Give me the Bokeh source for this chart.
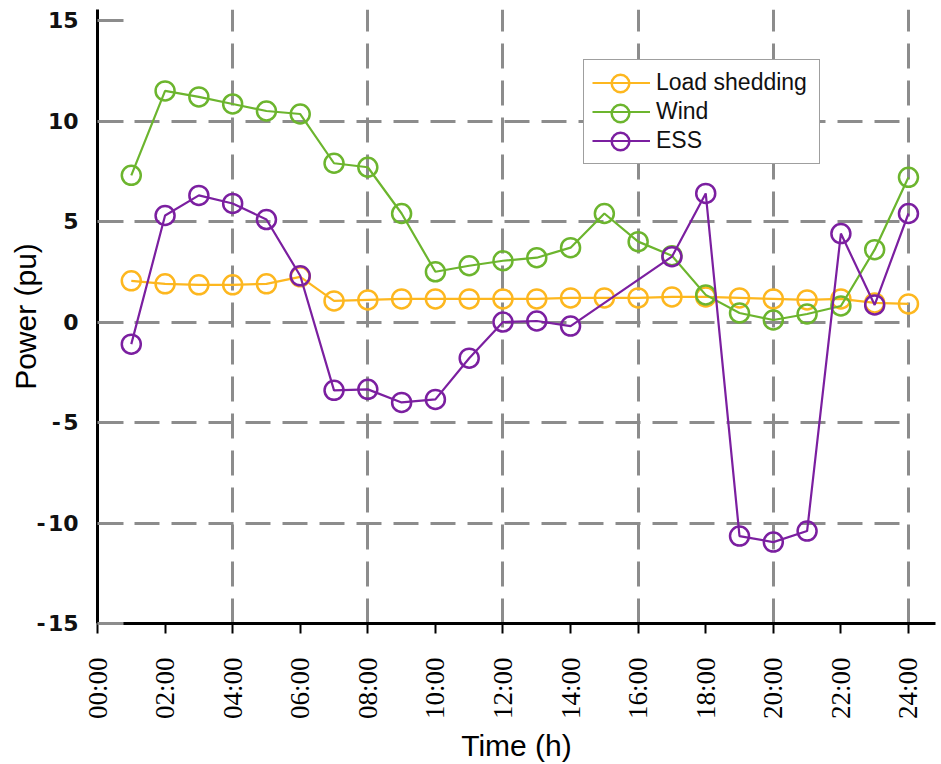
import numpy as np
from bokeh.plotting import figure
from bokeh.models import FixedTicker, Range1d, Legend, LegendItem, LinearAxis
from bokeh.embed import file_html
from bokeh.resources import INLINE

hours = list(range(1, 25))
load_shedding = [2.05, 1.9, 1.85, 1.85, 1.9, 2.25, 1.05, 1.1, 1.15, 1.15, 1.15, 1.15,
                 1.15, 1.2, 1.2, 1.2, 1.25, 1.25, 1.2, 1.15, 1.1, 1.15, 0.95, 0.9]
wind = [7.3, 11.5, 11.2, 10.85, 10.5, 10.35, 7.9, 7.7, 5.4, 2.5, 2.8, 3.05,
        3.2, 3.7, 5.4, 4.0, 3.3, 1.35, 0.45, 0.1, 0.4, 0.8, 3.6, 7.2]
ess_hours = [1, 2, 3, 4, 5, 6, 7, 8, 9, 10, 11, 12, 13, 14, 17, 18, 19, 20, 21, 22, 23, 24]
ess = [-1.1, 5.3, 6.3, 5.9, 5.1, 2.3, -3.4, -3.35, -4.0, -3.85, -1.8, 0.0,
       0.05, -0.2, 3.25, 6.4, -10.65, -10.95, -10.4, 4.4, 0.85, 5.4]

x_ticks = list(range(0, 25, 2))
x_tick_labels = ["00:00", "02:00", "04:00", "06:00", "08:00", "10:00", "12:00",
                 "14:00", "16:00", "18:00", "20:00", "22:00", "24:00"]
y_ticks = [-15, -10, -5, 0, 5, 10, 15]
y_tick_labels = ["-\u200a15", "-\u200a10", "-\u200a5", "0", "5", "10", "15"]
grid_x = [4, 8, 12, 16, 20, 24]
grid_y = [-10, -5, 0, 5, 10]

c_load = "#fdb71f"
c_wind = "#6cb52e"
c_ess = "#7b1fa0"

p = figure(width=941, height=764, output_backend="svg", toolbar_location=None,
           x_range=Range1d(0, 24.8), y_range=Range1d(-15, 15.55),
           min_border_left=97, min_border_right=6, min_border_top=9,
           min_border_bottom=141)
p.outline_line_color = None
p.background_fill_color = "white"

# grids
p.xgrid.ticker = FixedTicker(ticks=grid_x)
p.ygrid.ticker = FixedTicker(ticks=grid_y)
for g in (p.xgrid, p.ygrid):
    g.grid_line_color = "#8c8c8c"
    g.grid_line_width = 3
    g.grid_line_dash = "25 12"
try:
    p.ygrid.cross_bounds = (0, 24)
except Exception:
    pass

# axes
p.xaxis.ticker = FixedTicker(ticks=x_ticks)
p.xaxis.major_label_overrides = {t: l for t, l in zip(x_ticks, x_tick_labels)}
p.xaxis.major_label_orientation = np.pi / 2
p.xaxis.major_label_text_font = "Liberation Sans Narrow"
p.xaxis.major_label_text_font_size = "27px"
p.xaxis.major_label_text_color = "black"
p.xaxis.major_label_standoff = 24
p.xaxis.major_tick_out = 10
p.xaxis.major_tick_in = 0
p.xaxis.major_tick_line_width = 2
p.xaxis.major_tick_line_color = "black"
p.xaxis.minor_tick_line_color = None
p.xaxis.axis_line_width = 3
p.xaxis.axis_line_color = "black"

p.yaxis.ticker = FixedTicker(ticks=y_ticks)
p.yaxis.major_label_overrides = {t: l for t, l in zip(y_ticks, y_tick_labels)}
p.yaxis.major_label_text_font = "DejaVu Sans"
p.yaxis.major_label_text_font_style = "bold"
p.yaxis.major_label_text_font_size = "22px"
p.yaxis.major_label_text_color = "#111111"
p.yaxis.major_label_standoff = 19
p.yaxis.major_tick_in = 26
p.yaxis.major_tick_out = 0
p.yaxis.major_tick_line_width = 3
p.yaxis.major_tick_line_color = "#8c8c8c"
p.yaxis.minor_tick_line_color = None
p.yaxis.axis_line_width = 3
p.yaxis.axis_line_color = "black"

# axis titles on secondary, label-only axes (centred on the 0..24 / -15..15 spans)
def title_axis(label, bounds, standoff):
    ax = LinearAxis(axis_label=label, bounds=bounds, ticker=FixedTicker(ticks=[]))
    ax.axis_line_color = None
    ax.major_tick_line_color = None
    ax.minor_tick_line_color = None
    ax.major_label_text_alpha = 0
    ax.axis_label_text_font = "Liberation Sans"
    ax.axis_label_text_font_style = "normal"
    ax.axis_label_text_font_size = "30px"
    ax.axis_label_text_color = "black"
    ax.axis_label_standoff = standoff
    return ax

p.add_layout(title_axis("Time (h)", (0, 24), 6), "below")
p.add_layout(title_axis("Power (pu)", (-15, 15), -8), "left")

lines = []
dots = []
for name, xs, ys, col in (("Load shedding", hours, load_shedding, c_load),
                          ("Wind", hours, wind, c_wind),
                          ("ESS", ess_hours, ess, c_ess)):
    ln = p.line(xs, ys, line_color=col, line_width=2.2)
    sc = p.scatter(xs, ys, marker="circle", size=19, fill_color=None,
                   line_color=col, line_width=2.5)
    lines.append((name, ln))
    dots.append((name, sc))

# main legend: box, lines and labels
leg_x, leg_y = 486, 459
pad = 8
row_h = 29
legend = Legend(items=[LegendItem(label=n, renderers=[r]) for n, r in lines],
                location=(leg_x, leg_y))
legend.border_line_color = "#404040"
legend.border_line_width = 1.5
legend.background_fill_color = "white"
legend.background_fill_alpha = 1
legend.label_text_font = "Liberation Sans"
legend.label_text_font_size = "23px"
legend.label_text_color = "#111111"
legend.glyph_width = 58
legend.glyph_height = row_h
legend.label_height = row_h
legend.label_width = 155
legend.label_standoff = 6
legend.spacing = 0
legend.padding = pad
legend.margin = 0
p.add_layout(legend, "center")

# overlay legends (no text): larger circle markers centred on each legend row
big = 44
box_top = leg_y + 2 * pad + 3 * row_h  # from frame bottom
for k, (n, r) in enumerate(dots):
    centre = box_top - pad - row_h / 2 - k * row_h
    ol = Legend(items=[LegendItem(label="", renderers=[r])],
                location=(leg_x + pad, int(round(centre - big / 2))))
    ol.border_line_color = None
    ol.background_fill_alpha = 0
    ol.label_text_alpha = 0
    ol.label_text_font_size = "1px"
    ol.label_width = 1
    ol.label_standoff = 0
    ol.glyph_width = 58
    ol.glyph_height = big
    ol.label_height = big
    ol.padding = 0
    ol.margin = 0
    p.add_layout(ol, "center")

open("out.html", "w").write(file_html(p, INLINE))
